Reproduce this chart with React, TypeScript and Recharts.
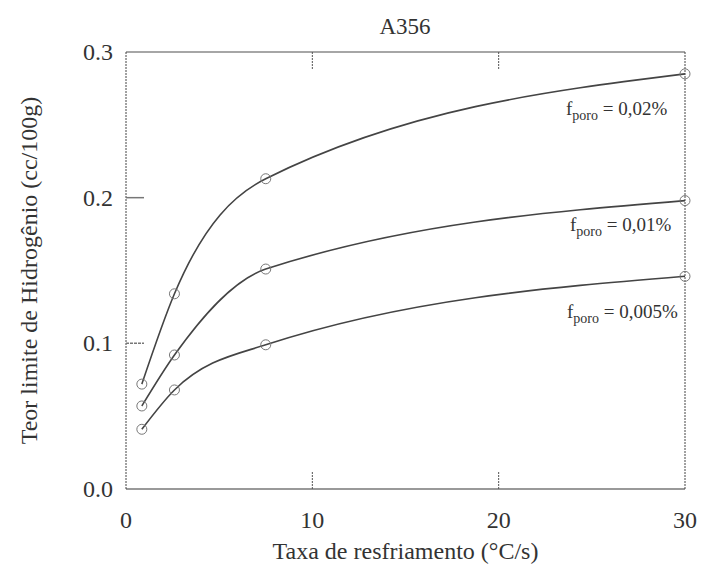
import { LineChart, Line, XAxis, YAxis, Customized } from 'recharts';

// taxa de resfriamento (°C/s)
const rates = [0.85, 2.6, 7.5, 30];
// teor limite de hidrogênio (cc/100g) para cada fração de poros
const poro002 = [0.072, 0.134, 0.213, 0.285];
const poro001 = [0.057, 0.092, 0.151, 0.198];
const poro0005 = [0.041, 0.068, 0.099, 0.146];

const xTicks = [0, 10, 20, 30];
const yTicks = [0, 0.1, 0.2, 0.3];

const data = rates.map((rate, i) => ({
  rate,
  p002: poro002[i],
  p001: poro001[i],
  p0005: poro0005[i],
}));

const FONT = '"Liberation Serif", "DejaVu Serif", serif';
const INK = '#333';

const BottomTick = ({ x, y, payload }: any) => (
  <g>
    {payload.value > 0 && payload.value < 30 && (
      <line x1={x} x2={x} y1={y} y2={y - 18} stroke="#555" strokeDasharray="2 1" />
    )}
    <text x={x} y={y + 31} textAnchor="middle" dominantBaseline="central" fontSize={24} fill={INK} fontFamily={FONT}>
      {payload.value}
    </text>
  </g>
);

const TopTick = ({ x, y, payload }: any) =>
  payload.value > 0 && payload.value < 30 ? (
    <line x1={x} x2={x} y1={y} y2={y + 18} stroke="#555" strokeDasharray="2 1" />
  ) : null;

const LeftTick = ({ x, y, payload }: any) => (
  <g>
    {payload.value > 0 && payload.value < 0.3 && (
      <line x1={x} x2={x + 18} y1={y} y2={y} stroke="#777" strokeWidth={1.5} strokeDasharray={payload.value === 0.2 ? undefined : '3 1'} />
    )}
    <text x={x - 13} y={y} textAnchor="end" dominantBaseline="central" fontSize={24} fill={INK} fontFamily={FONT}>
      {payload.value.toFixed(1)}
    </text>
  </g>
);

const RightTick = ({ x, y, payload }: any) =>
  payload.value > 0 && payload.value < 0.3 ? (
    <line x1={x} x2={x - 10} y1={y} y2={y} stroke="#777" strokeDasharray="2 1" />
  ) : null;

// rótulos f_poro ao lado de cada curva
const PoroLabel = ({ x, y, text }: { x: number; y: number; text: string }) => (
  <text x={x} y={y} fontSize={19} fill={INK} fontFamily={FONT}>
    f
    <tspan dy={5} fontSize={14}>poro</tspan>
    <tspan dy={-5}>{' = ' + text}</tspan>
  </text>
);

const Annotations = () => (
  <g>
    <text x={405} y={26} textAnchor="middle" dominantBaseline="central" fontSize={23} fill={INK} fontFamily={FONT}>
      A356
    </text>
    <PoroLabel x={566} y={115} text="0,02%" />
    <PoroLabel x={570} y={231} text="0,01%" />
    <PoroLabel x={567} y={318} text="0,005%" />
  </g>
);

const dot = { r: 5, stroke: '#777', strokeWidth: 1, fill: 'none' };

export default function App() {
  return (
    <div style={{ position: 'absolute', left: 0, top: 0, background: '#fff' }}>
      <LineChart width={701} height={569} data={data} margin={{ top: 51, right: 0, bottom: 0, left: 0 }}>
        <XAxis
          dataKey="rate"
          type="number"
          domain={[0, 30]}
          ticks={xTicks}
          height={80}
          tickSize={0}
          tickMargin={0}
          tick={<BottomTick />}
          axisLine={{ stroke: '#777', strokeWidth: 1.5 }}
          label={{ value: 'Taxa de resfriamento (°C/s)', position: 'insideBottom', offset: 10, fontSize: 24, fill: INK, fontFamily: FONT }}
        />
        <XAxis
          xAxisId="top"
          orientation="top"
          dataKey="rate"
          type="number"
          domain={[0, 30]}
          ticks={xTicks}
          height={1}
          tickSize={0}
          tickMargin={0}
          tick={<TopTick />}
          axisLine={{ stroke: '#888', strokeWidth: 1.5 }}
        />
        <YAxis
          type="number"
          domain={[0, 0.3]}
          ticks={yTicks}
          width={126}
          tickSize={0}
          tickMargin={0}
          tick={<LeftTick />}
          axisLine={{ stroke: '#444', strokeDasharray: '2 1' }}
          label={{ value: 'Teor limite de Hidrogênio (cc/100g)', angle: -90, position: 'insideLeft', offset: 28, style: { textAnchor: 'middle' }, fontSize: 24, fill: INK, fontFamily: FONT }}
        />
        <YAxis
          yAxisId="right"
          orientation="right"
          type="number"
          domain={[0, 0.3]}
          ticks={yTicks}
          width={16}
          tickSize={0}
          tickMargin={0}
          tick={<RightTick />}
          axisLine={{ stroke: '#444', strokeDasharray: '2 1' }}
        />
        <Line type="monotoneX" dataKey="p002" stroke="#444" strokeWidth={1.6} dot={dot} isAnimationActive={false} />
        <Line type="monotoneX" dataKey="p001" stroke="#444" strokeWidth={1.6} dot={dot} isAnimationActive={false} />
        <Line type="monotoneX" dataKey="p0005" stroke="#444" strokeWidth={1.6} dot={dot} isAnimationActive={false} />
        <Customized component={Annotations} />
      </LineChart>
    </div>
  );
}
